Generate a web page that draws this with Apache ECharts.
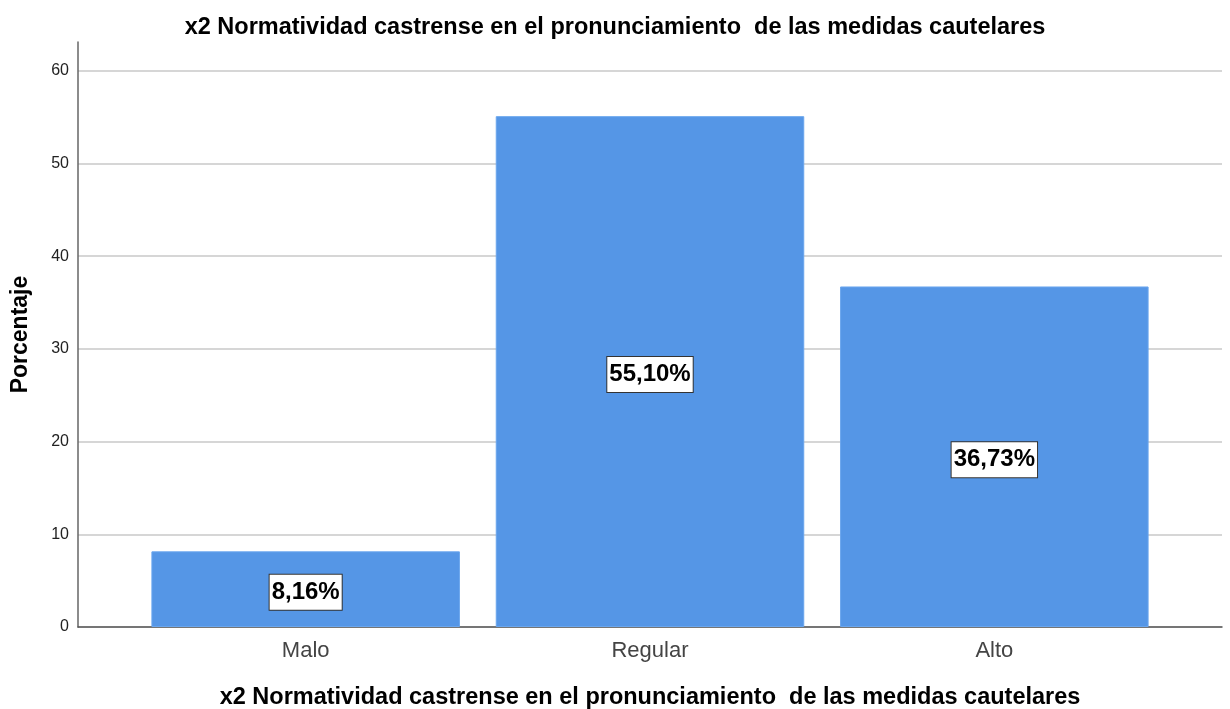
<!DOCTYPE html>
<html>
<head>
<meta charset="utf-8">
<script src="https://cdn.jsdelivr.net/npm/echarts@6/dist/echarts.min.js"></script>
<style>
  html, body { margin: 0; padding: 0; background: #fff; }
  #chart { width: 1230px; height: 709px; }
</style>
</head>
<body>
<div id="chart"></div>
<script>
const categories = ['Malo', 'Regular', 'Alto'];
const percentages = [8.16, 55.10, 36.73];
const yTicks = [0, 10, 20, 30, 40, 50, 60];
const chartTitle = 'x2 Normatividad castrense en el pronunciamiento  de las medidas cautelares';

const font = '"Liberation Sans", Arial, sans-serif';
const yMax = 63.1;

const chart = echarts.init(document.getElementById('chart'));

chart.setOption({
  animation: false,
  title: {
    text: chartTitle,
    left: 610,
    textAlign: 'center',
    top: 11,
    textStyle: { fontFamily: font, fontSize: 23.5, fontWeight: 'bold', color: '#000' }
  },
  grid: [
    // frame: y axis + gridlines across full width
    { left: 78, right: 8, top: 42, bottom: 82, outerBoundsMode: 'none' },
    // bars sit in a narrower band
    { left: 133.5, right: 63.5, top: 42, bottom: 82, outerBoundsMode: 'none' }
  ],
  xAxis: [
    {
      type: 'category',
      gridIndex: 0,
      data: categories,
      axisLine: { lineStyle: { color: '#555', width: 1.5 } },
      axisTick: { show: false },
      axisLabel: { show: false }
    },
    {
      type: 'category',
      gridIndex: 1,
      data: categories,
      axisLine: { show: false },
      axisTick: { show: false },
      axisLabel: { fontFamily: font, fontSize: 22, color: '#444', margin: 13 },
      name: chartTitle,
      nameLocation: 'middle',
      nameGap: 59,
      nameTextStyle: { fontFamily: font, fontSize: 23.5, fontWeight: 'bold', color: '#000' }
    }
  ],
  yAxis: [
    {
      type: 'value',
      gridIndex: 0,
      min: yTicks[0],
      max: yMax,
      interval: 10,
      name: 'Porcentaje',
      nameLocation: 'middle',
      nameGap: 46,
      nameTextStyle: { fontFamily: font, fontSize: 23, fontWeight: 'bold', color: '#000' },
      axisLine: { show: true, lineStyle: { color: '#666', width: 1.5 } },
      axisTick: { show: false },
      axisLabel: {
        fontFamily: font, fontSize: 16, color: '#222', margin: 9,
        showMaxLabel: false,
        formatter: v => (yTicks.includes(v) ? String(v) : '')
      },
      splitLine: { show: true, showMaxLine: false, lineStyle: { color: '#c8c8c8', width: 1.5 } }
    },
    {
      type: 'value',
      gridIndex: 1,
      min: yTicks[0],
      max: yMax,
      show: false,
      splitLine: { show: false }
    }
  ],
  series: [
    {
      type: 'bar',
      xAxisIndex: 1,
      yAxisIndex: 1,
      data: percentages,
      barWidth: '89.6%',
      itemStyle: { color: '#5596e6', borderColor: '#6aa6ee', borderWidth: 1 },
      label: {
        show: true,
        position: 'inside',
        offset: [0, 3],
        formatter: p => p.value.toFixed(2).replace('.', ',') + '%',
        fontFamily: font,
        fontSize: 24,
        lineHeight: 28,
        fontWeight: 'bold',
        color: '#000',
        backgroundColor: '#fff',
        borderColor: '#333',
        borderWidth: 1,
        padding: [5, 2, 2, 2]
      }
    }
  ]
});
</script>
</body>
</html>
